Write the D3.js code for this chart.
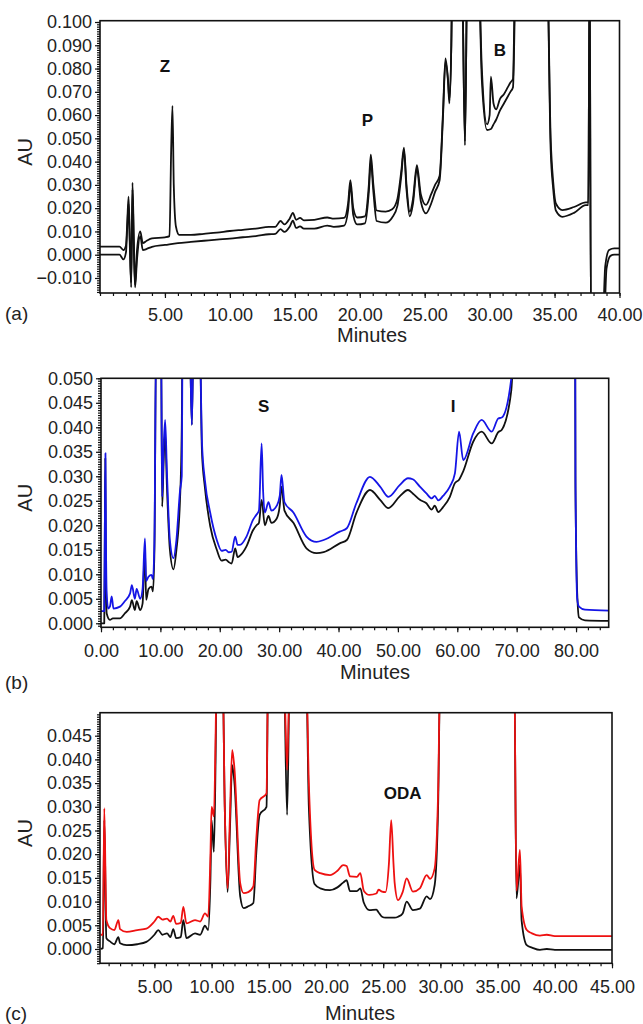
<!DOCTYPE html>
<html><head><meta charset="utf-8">
<script src="https://cdn.jsdelivr.net/npm/d3@7"></script>
<style>
body{margin:0;background:#fff;}
svg{display:block;font-family:"Liberation Sans",Arial,sans-serif;}
</style></head>
<body><svg id="c" width="643" height="1024"></svg>
<script>
// ---------- DATA ----------
// Panel (a): time (min), absorbance (AU)
const aUpper = [[0,0.0035],[1.5,0.0035],[1.8,0.002],[2.0,0.004],[2.1,0.014],[2.2,0.025],[2.3,0.006],[2.4,-0.014],[2.5,0.031],[2.6,0.008],[2.7,-0.013],[2.85,0.002],[3.1,0.010],[3.3,0.005],[3.6,0.006],[4.0,0.007],[5.0,0.0075],[5.35,0.008],[5.48,0.045],[5.58,0.064],[5.68,0.03],[5.85,0.012],[6.1,0.0085],[7,0.0085],[8,0.009],[9,0.0095],[10,0.0102],[11,0.0107],[12,0.0112],[13,0.012],[13.5,0.012],[13.9,0.0145],[14.2,0.013],[14.6,0.0155],[14.85,0.018],[15.1,0.015],[15.4,0.0158],[15.7,0.0148],[16.5,0.015],[17.5,0.016],[18,0.0155],[18.8,0.0158],[19.1,0.022],[19.28,0.032],[19.5,0.02],[19.8,0.016],[20.4,0.0165],[20.7,0.03],[20.85,0.043],[21.05,0.03],[21.3,0.019],[22,0.0185],[22.5,0.0195],[22.9,0.024],[23.2,0.036],[23.4,0.046],[23.6,0.03],[23.85,0.0185],[24.1,0.024],[24.4,0.0385],[24.7,0.026],[25.1,0.0214],[25.5,0.026],[25.8,0.030],[26.15,0.034],[26.4,0.06],[26.6,0.0844],[26.8,0.075],[26.9,0.0665],[27.05,0.09],[27.15,0.13],[27.85,0.13],[28.1,0.0486],[28.3,0.13],[29.1,0.13],[29.4,0.08],[29.8,0.056],[30.0,0.06],[30.1,0.0765],[30.3,0.065],[30.5,0.0625],[30.8,0.067],[31.1,0.069],[31.4,0.072],[31.6,0.074],[31.8,0.0755],[32.0,0.13],[34.4,0.13],[34.7,0.05],[34.9,0.031],[35.1,0.022],[35.6,0.0192],[36.5,0.0205],[37.4,0.0225],[37.6,0.0225],[37.7,0.13],[37.8,-0.03],[38.7,-0.03],[38.9,-0.005],[39.2,0.002],[39.6,0.0027],[40,0.0027]];
const aLower = [[0,0.0],[1.5,0.0],[1.8,-0.002],[2.0,0.001],[2.1,0.012],[2.2,0.022],[2.3,0.003],[2.4,-0.012],[2.5,0.028],[2.6,0.004],[2.7,-0.014],[2.85,-0.002],[3.1,0.008],[3.3,0.002],[3.6,0.0025],[4.0,0.0034],[5,0.0042],[6,0.005],[7,0.0055],[8,0.006],[9,0.0065],[10,0.0069],[11,0.0075],[12,0.008],[13,0.0088],[13.5,0.009],[13.9,0.011],[14.2,0.0098],[14.6,0.012],[14.85,0.0146],[15.1,0.0115],[15.4,0.0122],[15.7,0.0112],[16.5,0.0112],[17.5,0.0125],[18,0.012],[18.8,0.0125],[19.1,0.019],[19.28,0.030],[19.5,0.017],[19.8,0.013],[20.4,0.0135],[20.7,0.027],[20.85,0.040],[21.05,0.027],[21.3,0.0145],[22,0.0138],[22.5,0.016],[22.9,0.021],[23.2,0.034],[23.4,0.045],[23.6,0.028],[23.85,0.0165],[24.1,0.022],[24.4,0.037],[24.7,0.023],[25.1,0.0178],[25.5,0.022],[25.8,0.027],[26.15,0.032],[26.4,0.058],[26.6,0.083],[26.8,0.074],[26.9,0.065],[27.05,0.09],[27.15,0.13],[27.85,0.13],[28.1,0.047],[28.3,0.13],[29.1,0.13],[29.4,0.075],[29.8,0.0536],[30.1,0.054],[30.3,0.056],[30.5,0.058],[30.8,0.062],[31.1,0.065],[31.4,0.068],[31.6,0.07],[31.8,0.072],[32.05,0.13],[34.4,0.13],[34.7,0.045],[34.9,0.028],[35.1,0.019],[35.6,0.0163],[36.5,0.018],[37.4,0.0213],[37.6,0.0213],[37.7,0.13],[37.8,-0.03],[38.8,-0.03],[39.0,-0.006],[39.3,-0.0005],[39.6,0.0],[40,0.0]];
const aXTicks = [5,10,15,20,25,30,35,40];
const aYTicks = [-0.01,0,0.01,0.02,0.03,0.04,0.05,0.06,0.07,0.08,0.09,0.10];

// Panel (b)
const bBlack = [[0,0.0],[0.55,0.0],[0.65,0.02],[0.72,0.0337],[0.8,0.015],[0.96,0.002],[1.5,0.0007],[2,0.001],[3.2,0.001],[4,0.002],[4.9,0.0034],[5.2,0.0047],[5.7,0.0027],[6.0,0.0045],[6.6,0.0027],[7.0,0.004],[7.4,0.0153],[7.6,0.0048],[8.0,0.007],[8.5,0.0075],[8.75,0.0065],[9.0,0.015],[9.3,0.06],[10.1,0.06],[10.3,0.0238],[10.55,0.033],[10.8,0.0388],[11.1,0.028],[11.6,0.015],[12.2,0.011],[12.7,0.015],[13.3,0.025],[13.6,0.04],[13.75,0.06],[14.9,0.06],[15.3,0.0405],[15.6,0.06],[16.6,0.06],[17.0,0.035],[17.5,0.0277],[18.4,0.0198],[19.5,0.015],[20.3,0.0128],[21,0.013],[21.5,0.0125],[22.0,0.0122],[22.6,0.0153],[23.0,0.0135],[23.4,0.0138],[24.5,0.0157],[25.6,0.019],[26.2,0.020],[26.6,0.0205],[27.05,0.0252],[27.6,0.020],[28.2,0.0219],[28.7,0.0205],[29.6,0.0214],[30.1,0.024],[30.4,0.0279],[30.9,0.023],[32.4,0.0205],[34.6,0.0153],[36.3,0.0143],[37.5,0.0145],[40.2,0.0163],[41.4,0.017],[43.0,0.0225],[45.3,0.0272],[47.0,0.0252],[48.4,0.0235],[50.3,0.0259],[51.7,0.0272],[52.5,0.0265],[53.7,0.0252],[54.8,0.0245],[55.7,0.0232],[56.2,0.024],[56.8,0.0227],[57.6,0.0237],[58.75,0.0258],[59.6,0.0286],[60.3,0.0293],[61.0,0.031],[62.7,0.0371],[64.1,0.0391],[65.8,0.0367],[66.9,0.039],[67.5,0.0395],[69.1,0.0476],[69.7,0.06],[79.85,0.06],[79.9,0.028],[80.2,0.006],[80.5,0.0012],[81.5,0.0006],[85.5,0.0005]];
const bBlue = [[0,0.0025],[0.55,0.0025],[0.65,0.02],[0.75,0.0347],[0.85,0.015],[0.96,0.0061],[1.2,0.003],[1.5,0.0034],[1.8,0.0055],[2.1,0.003],[3.2,0.0034],[4.0,0.0045],[4.9,0.0061],[5.2,0.0078],[5.7,0.005],[6.0,0.007],[6.6,0.005],[7.0,0.007],[7.4,0.0173],[7.6,0.0086],[8.0,0.0095],[8.5,0.0099],[8.75,0.009],[9.0,0.017],[9.3,0.06],[10.1,0.06],[10.3,0.0258],[10.55,0.036],[10.8,0.0415],[11.1,0.031],[11.6,0.017],[12.2,0.0133],[12.7,0.017],[13.3,0.027],[13.6,0.03],[13.75,0.06],[14.9,0.06],[15.3,0.0405],[15.6,0.06],[16.6,0.06],[17.0,0.037],[17.5,0.0292],[18.4,0.0225],[19.5,0.017],[20.3,0.0148],[21,0.015],[21.5,0.0145],[22.0,0.0146],[22.6,0.0177],[23.0,0.016],[23.4,0.016],[24.5,0.0177],[25.6,0.0211],[26.2,0.0222],[26.6,0.023],[27.05,0.0367],[27.3,0.027],[27.6,0.0226],[28.2,0.0247],[28.7,0.023],[29.6,0.024],[30.1,0.026],[30.4,0.0303],[30.9,0.0247],[32.4,0.0226],[34.6,0.0177],[36.3,0.0166],[37.5,0.017],[40.2,0.0187],[41.4,0.0194],[43.0,0.0245],[45.3,0.0299],[47.0,0.0279],[48.4,0.0258],[50.3,0.0282],[51.7,0.0296],[52.5,0.0294],[53.7,0.0279],[54.8,0.0265],[55.7,0.0255],[56.2,0.026],[56.8,0.0251],[57.6,0.026],[58.75,0.0279],[59.6,0.0306],[60.3,0.0391],[61.0,0.0333],[62.7,0.0388],[64.1,0.0415],[65.8,0.0391],[66.9,0.0418],[67.5,0.042],[69.1,0.050],[69.5,0.06],[79.85,0.06],[79.9,0.03],[80.2,0.005],[80.5,0.0034],[81.5,0.0028],[85.5,0.0026]];
const bXTicks = [0,10,20,30,40,50,60,70,80];
const bYTicks = [0,0.005,0.01,0.015,0.02,0.025,0.03,0.035,0.04,0.045,0.05];

// Panel (c)
const cBlack = [[0.3,0.0],[0.5,0.0002],[0.62,0.0272],[0.8,0.0023],[1.12,0.0016],[1.5,0.001],[1.85,0.0025],[2.0,0.0012],[2.58,0.0008],[3.5,0.001],[4.3,0.0015],[5.0,0.003],[5.34,0.004],[5.7,0.003],[6.1,0.0033],[6.4,0.0025],[6.65,0.0042],[6.9,0.0023],[7.3,0.0025],[7.53,0.0061],[7.8,0.0023],[8.55,0.0033],[9.0,0.003],[9.42,0.0049],[9.7,0.004],[9.9,0.015],[10.0,0.0272],[10.2,0.0205],[10.35,0.04],[10.45,0.06],[10.95,0.06],[11.15,0.03],[11.4,0.012],[11.6,0.025],[11.8,0.0388],[12.0,0.035],[12.5,0.0111],[12.8,0.0086],[13.2,0.009],[13.65,0.0097],[13.9,0.02],[14.2,0.0283],[14.8,0.03],[14.95,0.06],[16.3,0.06],[16.6,0.0283],[16.85,0.06],[18.25,0.06],[18.5,0.03],[19.0,0.0137],[19.5,0.0128],[20.35,0.0124],[21.0,0.013],[21.5,0.014],[21.8,0.0145],[22.1,0.0122],[22.7,0.0122],[23.0,0.0128],[23.3,0.0098],[23.8,0.0082],[24.4,0.0083],[24.6,0.0077],[24.9,0.0068],[25.2,0.0066],[25.7,0.0066],[26.0,0.0066],[26.3,0.0068],[26.7,0.0075],[27.05,0.010],[27.6,0.0082],[28.2,0.0085],[28.8,0.0111],[29.1,0.0105],[29.5,0.0135],[29.8,0.03],[30.0,0.06],[36.45,0.06],[36.65,0.0107],[36.95,0.0178],[37.1,0.006],[37.55,0.0008],[38.0,0.0003],[38.7,-0.0002],[39.3,0.0],[40,-0.0002],[45,-0.0002]];
const cRed = [[0.3,0.003],[0.5,0.003],[0.62,0.0297],[0.8,0.0061],[1.12,0.0044],[1.5,0.004],[1.85,0.0061],[2.0,0.0042],[2.58,0.0036],[3.5,0.004],[4.3,0.0043],[5.0,0.0058],[5.34,0.0068],[5.7,0.0062],[6.1,0.0064],[6.4,0.0058],[6.65,0.007],[6.9,0.0053],[7.3,0.0055],[7.53,0.0089],[7.8,0.0054],[8.55,0.0061],[9.0,0.0058],[9.42,0.0075],[9.7,0.0068],[9.9,0.02],[10.0,0.030],[10.2,0.028],[10.35,0.045],[10.45,0.06],[10.95,0.06],[11.15,0.03],[11.4,0.0128],[11.6,0.028],[11.8,0.042],[12.0,0.038],[12.5,0.0139],[12.8,0.0118],[13.2,0.012],[13.65,0.0132],[13.9,0.023],[14.2,0.0314],[14.8,0.0328],[14.95,0.06],[16.3,0.06],[16.6,0.0378],[16.85,0.06],[18.25,0.06],[18.5,0.035],[19.0,0.0167],[19.5,0.016],[20.35,0.0156],[21.0,0.0165],[21.5,0.0177],[21.8,0.0175],[22.1,0.0153],[22.7,0.0152],[23.0,0.016],[23.3,0.0123],[23.8,0.0114],[24.4,0.0117],[24.6,0.0125],[24.9,0.0121],[25.2,0.012],[25.5,0.018],[25.7,0.0272],[25.9,0.018],[26.0,0.014],[26.3,0.0103],[26.7,0.012],[27.05,0.0149],[27.6,0.0121],[28.2,0.0128],[28.8,0.0156],[29.1,0.0148],[29.5,0.017],[29.8,0.033],[30.0,0.06],[36.45,0.06],[36.65,0.0123],[36.95,0.0209],[37.1,0.009],[37.55,0.004],[38.0,0.0033],[38.7,0.0028],[39.3,0.003],[40,0.0027],[45,0.0027]];
const cXTicks = [5,10,15,20,25,30,35,40,45];
const cYTicks = [0,0.005,0.01,0.015,0.02,0.025,0.03,0.035,0.04,0.045];

const panelLabels = ["(a)","(b)","(c)"];
const xTitle = "Minutes", yTitle = "AU";

// ---------- DRAW ----------
const svg = d3.select("#c");

function panel(cfg, idx){
  const x = d3.scaleLinear().domain(cfg.xd).range([cfg.l, cfg.r]);
  const y = d3.scaleLinear().domain(cfg.yd).range([cfg.b, cfg.t]);
  const g = svg.append("g");
  const cid = "clip"+idx;
  svg.append("clipPath").attr("id",cid).append("rect")
    .attr("x",cfg.l).attr("y",cfg.t).attr("width",cfg.r-cfg.l).attr("height",cfg.b-cfg.t);

  // minor ticks
  const yMinor = d3.range(Math.ceil(cfg.yd[0]/cfg.yMinorStep), Math.floor(cfg.yd[1]/cfg.yMinorStep)+1).map(i=>i*cfg.yMinorStep);
  const xMinor = d3.range(Math.ceil(cfg.xd[0]/cfg.xMinorStep), Math.floor(cfg.xd[1]/cfg.xMinorStep)+1).map(i=>i*cfg.xMinorStep);
  g.append("g").attr("transform",`translate(${cfg.l},0)`)
    .call(d3.axisLeft(y).tickValues(yMinor).tickSize(3).tickFormat(""))
    .call(s=>s.select(".domain").remove());
  g.append("g").attr("transform",`translate(0,${cfg.b})`)
    .call(d3.axisBottom(x).tickValues(xMinor).tickSize(3).tickFormat(""))
    .call(s=>s.select(".domain").remove());

  // major
  const ya = g.append("g").attr("transform",`translate(${cfg.l},0)`)
    .call(d3.axisLeft(y).tickValues(cfg.yTicks).tickSize(5).tickPadding(3).tickFormat(d3.format(".3f")));
  ya.select(".domain").remove();
  const xa = g.append("g").attr("transform",`translate(0,${cfg.b})`)
    .call(d3.axisBottom(x).tickValues(cfg.xTicks).tickSize(5).tickPadding(cfg.xPad).tickFormat(d3.format(".2f")));
  xa.select(".domain").remove();
  g.selectAll(".tick line").attr("stroke","#111").attr("stroke-width",1.2);
  g.selectAll(".tick text").attr("font-size",18).attr("fill","#222")
    .attr("font-family","'Liberation Sans',Arial,sans-serif");

  const line = d3.line().x(d=>x(d[0])).y(d=>y(d[1])).curve(d3.curveMonotoneX);
  const lg = g.append("g").attr("clip-path",`url(#${cid})`);
  cfg.series.forEach(s=>{
    lg.append("path").datum(s.data).attr("d",line).attr("fill","none")
      .attr("stroke",s.color).attr("stroke-width",1.8).attr("stroke-linejoin","round");
  });

  // frame
  g.append("rect").attr("x",cfg.l).attr("y",cfg.t).attr("width",cfg.r-cfg.l).attr("height",cfg.b-cfg.t)
    .attr("fill","none").attr("stroke","#111").attr("stroke-width",1.6);

  // annotations
  cfg.notes.forEach(n=>{
    g.append("text").attr("x",x(n.t)).attr("y",y(n.v)).attr("text-anchor","middle")
      .attr("font-size",17).attr("font-weight","bold").attr("fill","#111").text(n.text);
  });

  // titles
  g.append("text").attr("transform",`translate(${cfg.yTitleX},${(cfg.t+cfg.b)/2 - 5}) rotate(-90)`)
    .attr("text-anchor","middle").attr("font-size",20).attr("fill","#222").text(yTitle);
  g.append("text").attr("x",cfg.xTitleX).attr("y",cfg.xTitleY).attr("text-anchor","middle")
    .attr("font-size",20).attr("fill","#222").text(xTitle);
  g.append("text").attr("x",5).attr("y",cfg.plY).attr("font-size",19).attr("fill","#222").text(panelLabels[idx]);
}

panel({l:100,r:619.5,t:20.7,b:293,xd:[0,40],yd:[-0.01645,0.10056],
  xTicks:aXTicks,yTicks:aYTicks,xMinorStep:1,yMinorStep:0.001,xPad:10,
  series:[{data:aLower,color:"#111"},{data:aUpper,color:"#111"}],
  notes:[{t:5.0,v:0.0785,text:"Z"},{t:20.6,v:0.0555,text:"P"},{t:30.8,v:0.0855,text:"B"}],
  yTitleX:32,xTitleX:372,xTitleY:342,plY:320},0);

panel({l:101,r:608.7,t:378.3,b:627.3,xd:[0,85.5],yd:[-0.00082,0.05],
  xTicks:bXTicks,yTicks:bYTicks,xMinorStep:2,yMinorStep:0.0005,xPad:12,
  series:[{data:bBlack,color:"#111"},{data:bBlue,color:"#1515e6"}],
  notes:[{t:27.4,v:0.0432,text:"S"},{t:59.3,v:0.0432,text:"I"}],
  yTitleX:32,xTitleX:375,xTitleY:679,plY:689},1);

panel({l:100,r:612,t:712.7,b:963.3,xd:[0.245,45],yd:[-0.00302,0.04985],
  xTicks:cXTicks,yTicks:cYTicks,xMinorStep:1,yMinorStep:0.0005,xPad:12,
  series:[{data:cBlack,color:"#111"},{data:cRed,color:"#ee1111"}],
  notes:[{t:26.7,v:0.0317,text:"ODA"}],
  yTitleX:32,xTitleX:360,xTitleY:1020,plY:1020},2);
</script></body></html>
